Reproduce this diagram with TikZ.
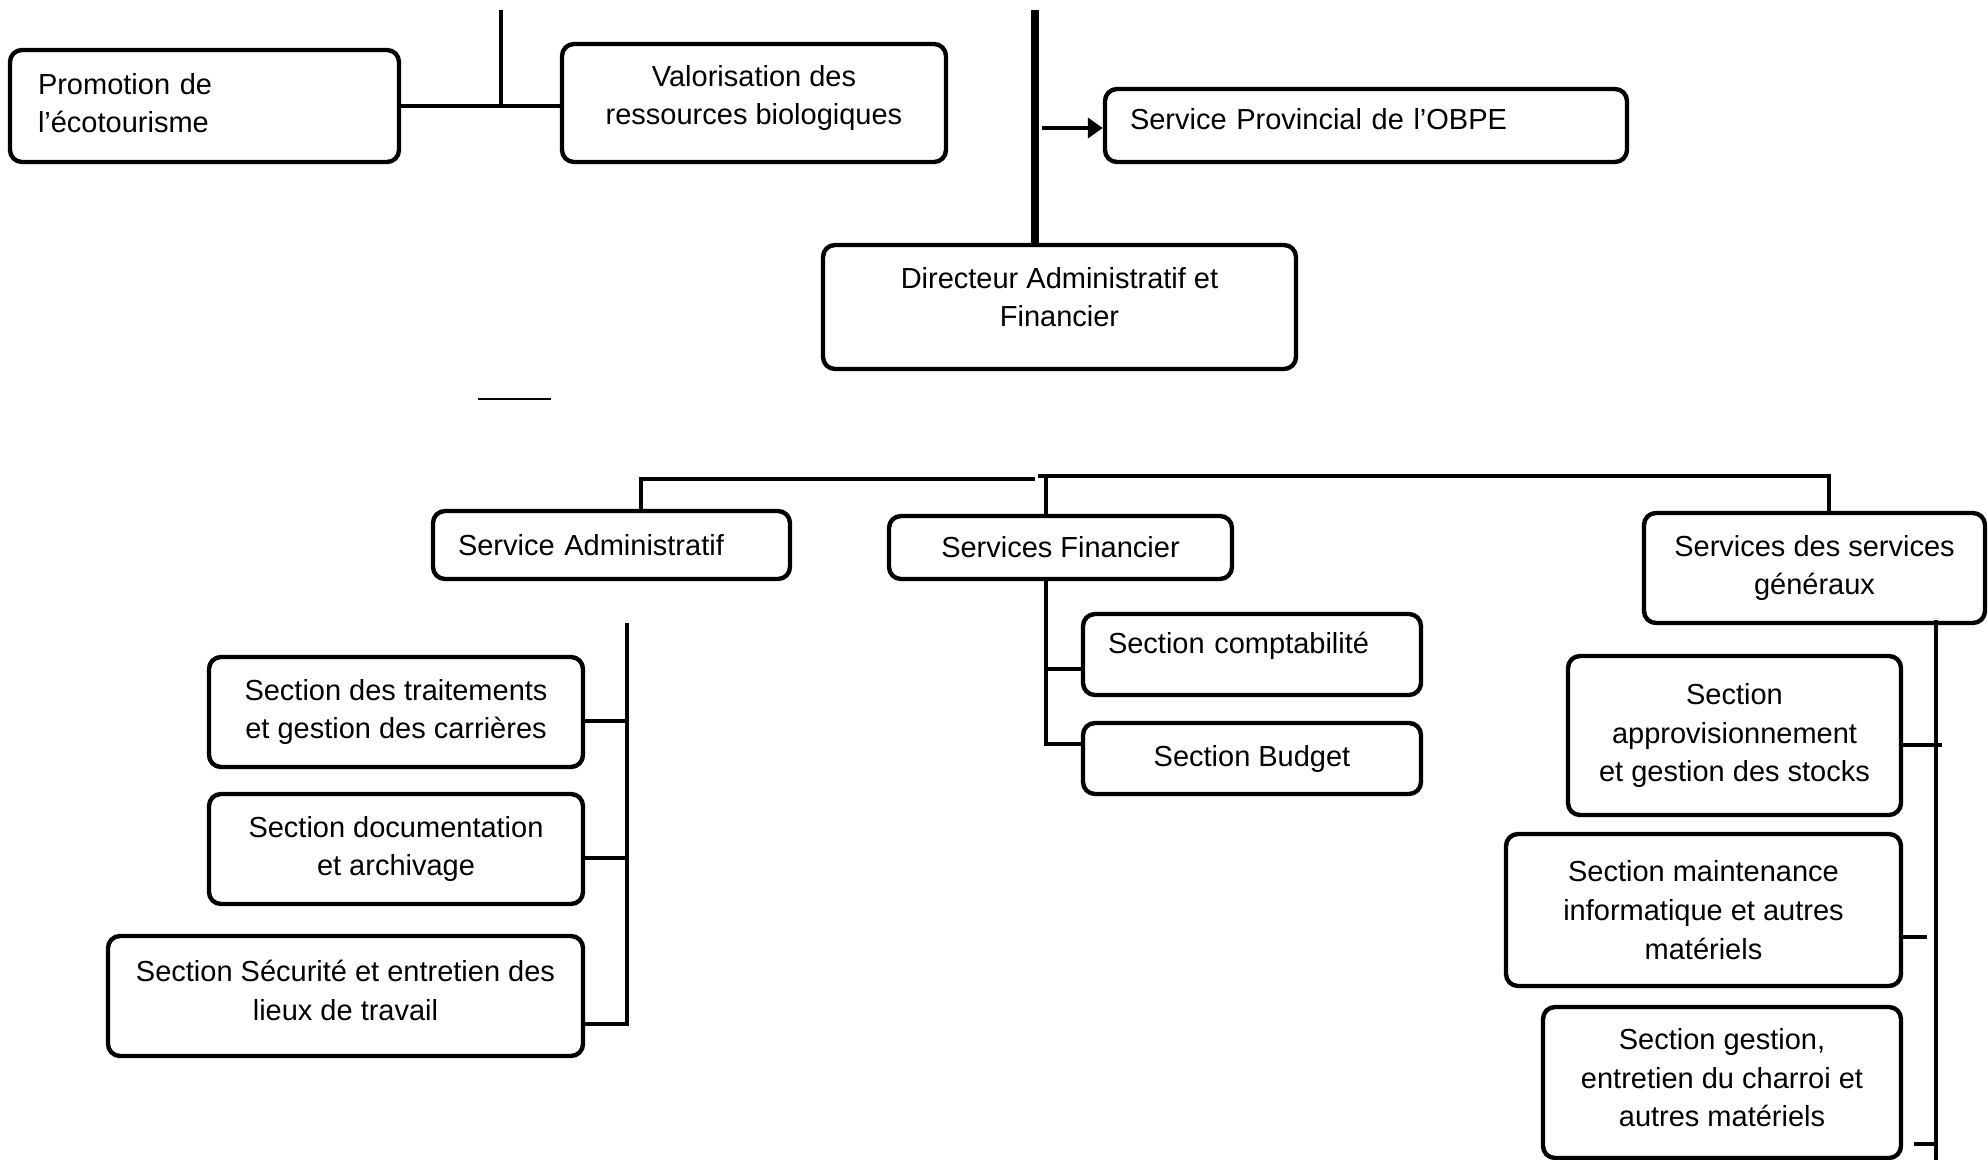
\documentclass[tikz,border=0pt]{standalone}
\usepackage{fontspec}
\setmainfont{Liberation Sans}
\usetikzlibrary{arrows.meta}
\newcommand{\orgfont}{\fontsize{8.25}{11}\selectfont}
\tikzset{
  unit/.style={draw,line width=1.25pt,rounded corners=0.12cm,font=\orgfont,align=center,inner sep=0.1cm},
  leftunit/.style={unit,align=left,inner xsep=0.25cm},
  link/.style={line width=1.4pt},
  trunkline/.style={line width=2pt},
  thinrule/.style={line width=0.6pt},
}
\begin{document}
\begin{tikzpicture}
        \useasboundingbox (0,0) rectangle (19.88,-11.60);
        \node[leftunit,text width=3.33cm,inner xsep=0.28cm,minimum height=1.12cm,text depth=0.45cm] (promo) at (2.045,-1.06) {Promotion de\\l’écotourisme};
        \node[unit,minimum width=3.84cm,minimum height=1.18cm,text depth=0.16cm] (valor) at (7.54,-1.03) {Valorisation des\\ressources biologiques};
        \node[leftunit,text width=4.72cm,minimum height=0.73cm,text depth=0.13cm] (prov) at (13.66,-1.255) {Service Provincial de l’OBPE};
        \node[unit,minimum width=4.73cm,minimum height=1.24cm,text depth=0.2cm] (dir) at (10.595,-3.07) {Directeur Administratif et\\Financier};
        \node[leftunit,text width=3.07cm,minimum height=0.68cm] (admin) at (6.115,-5.45) {Service Administratif};
        \node[unit,minimum width=3.43cm,minimum height=0.63cm] (fin) at (10.605,-5.475) {Services Financier};
        \node[unit,minimum width=3.41cm,minimum height=1.10cm] (gen) at (18.145,-5.68) {Services des services\\généraux};
        \node[leftunit,text width=2.88cm,minimum height=0.81cm,text depth=0.24cm] (compta) at (12.52,-6.545) {Section comptabilité};
        \node[unit,minimum width=3.38cm,minimum height=0.71cm] (budget) at (12.52,-7.585) {Section Budget};
        \node[unit,minimum width=3.74cm,minimum height=1.10cm] (trait) at (3.96,-7.12) {Section des traitements\\et gestion des carrières};
        \node[unit,minimum width=3.74cm,minimum height=1.10cm] (doc) at (3.96,-8.49) {Section documentation\\et archivage};
        \node[unit,minimum width=4.75cm,minimum height=1.20cm,text depth=0.12cm] (secu) at (3.455,-9.96) {Section Sécurité et entretien des\\lieux de travail};
        \node[unit,minimum width=3.33cm,minimum height=1.59cm] (appro) at (17.345,-7.355) {Section\\approvisionnement\\et gestion des stocks};
        \node[unit,minimum width=3.95cm,minimum height=1.52cm] (maint) at (17.035,-9.10) {Section maintenance\\informatique et autres\\matériels};
        \node[unit,minimum width=3.58cm,minimum height=1.51cm,text depth=0.1cm] (gest) at (17.22,-10.825) {Section gestion,\\entretien du charroi et\\autres matériels};
        \coordinate (topa) at (5.01,-0.10);
        \coordinate (topb) at (10.35,-0.10);
        \coordinate (arrowstart) at (10.42,-1.28);
        \draw[link] (promo.east) -- (promo.east -| valor.west);
        \draw[link] (topa) -- (topa |- promo.east);
        \draw[trunkline] (topb) -- (topb |- dir.north);
        \draw[link,-{Triangle[length=0.15cm,width=0.2cm]}] (arrowstart) -- (arrowstart -| prov.west);
        \draw[thinrule] (4.78,-3.99) -- (5.51,-3.99);
        \coordinate (busa) at (6.41,-4.79);
        \coordinate (busb) at (10.35,-4.79);
        \coordinate (busc) at (10.38,-4.76);
        \coordinate (busd) at (18.29,-4.76);
        \coordinate (finbus) at (10.46,-4.76);
        \draw[link] (admin.north -| busa) -- (busa) -- (busb);
        \draw[link] (busc) -- (busd) -- (gen.north -| busd);
        \draw[link] (finbus) -- (fin.north -| finbus);
        \draw[link] (fin.south -| finbus) |- ([yshift=0.145cm]budget.west);
        \draw[link] ([yshift=-0.145cm]compta.west) -- ++(-0.37,0);
        \coordinate (admbus) at (6.27,-6.23);
        \draw[link] (admbus) |- ([yshift=-0.28cm]secu.east);
        \draw[link] ([yshift=-0.09cm]trait.east) -| (admbus);
        \draw[link] ([yshift=-0.09cm]doc.east) -| (admbus);
        \coordinate (genbus) at (19.36,-6.2);
        \coordinate (genend) at (19.36,-11.60);
        \draw[link] (genbus) -- (genend);
        \draw[link] ([yshift=-0.095cm]appro.east) -- ++(0.39,0);
        \draw[link] ([yshift=-0.27cm]maint.east) -- ++(0.24,0);
        \draw[link] ([xshift=0.11cm,yshift=-0.615cm]gest.east) -- ++(0.21,0);
      \end{tikzpicture}
\end{document}
